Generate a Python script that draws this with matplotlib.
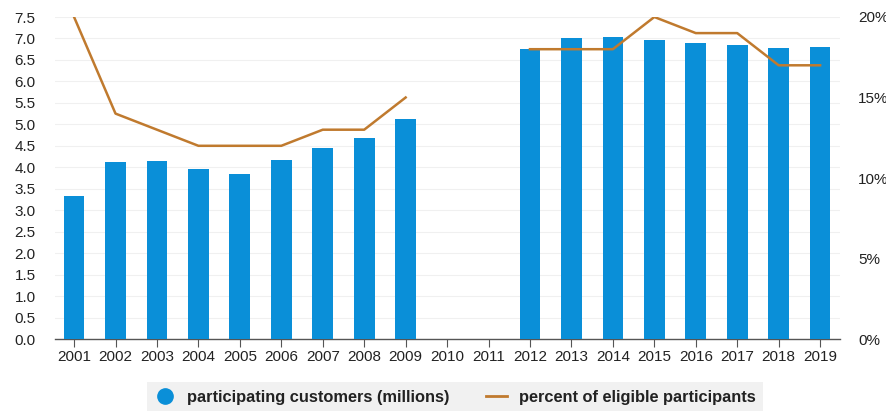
import numpy as np
import matplotlib
matplotlib.use("Agg")
from matplotlib import pyplot as plt
from matplotlib.lines import Line2D

plt.rcParams['font.family'] = ['Liberation Sans', 'DejaVu Sans']

years = [str(y) for y in range(2001, 2020)]
customers = [3.33, 4.12, 4.15, 3.96, 3.84, 4.18, 4.45, 4.68, 5.12,
             np.nan, np.nan,
             6.75, 7.00, 7.03, 6.96, 6.90, 6.84, 6.78, 6.80]
percent = [20, 14, 13, 12, 12, 12, 13, 13, 15,
           np.nan, np.nan,
           18, 18, 18, 20, 19, 19, 17, 17]
left_ticks = np.arange(0, 7.51, 0.5)
right_ticks = [0, 5, 10, 15, 20]

blue = '#0a8fd8'
brown = '#c07a2e'

W, H = 887, 411
fig = plt.figure(figsize=(W / 100, H / 100), dpi=100)
ax = fig.add_axes([55 / W, 72 / H, 785 / W, 322 / H])

x = np.arange(len(years))
ax.bar(x, customers, width=0.5, color=blue, zorder=3)
ax.set_xlim(-0.46, len(years) - 1 + 0.48)
ax.set_ylim(0, 7.5)
ax.set_yticks(left_ticks)
ax.set_yticklabels([f"{v:.1f}" for v in left_ticks])
ax.set_xticks(x)
ax.set_xticklabels(years)
ax.grid(axis='y', color='#f0f0f0', linewidth=0.8, zorder=0)

for s in ['top', 'right', 'left']:
    ax.spines[s].set_visible(False)
ax.spines['bottom'].set_color('#555555')
ax.spines['bottom'].set_linewidth(1.0)
ax.tick_params(axis='x', length=6, width=0.8, color='#555555', labelsize=11,
               labelcolor='#222222', pad=2)
ax.tick_params(axis='y', length=0, labelsize=11, labelcolor='#222222', pad=14)

ax2 = ax.twinx()
ax2.plot(x, percent, color=brown, linewidth=1.8, zorder=4)
ax2.set_ylim(0, 20)
ax2.set_yticks(right_ticks)
ax2.set_yticklabels([f"{v}%" for v in right_ticks])
ax2.tick_params(axis='y', length=0, labelsize=11, labelcolor='#222222', pad=13)
for s in ax2.spines.values():
    s.set_visible(False)

handles = [
    Line2D([], [], marker='o', linestyle='none', markersize=11,
           markerfacecolor=blue, markeredgecolor=blue),
    Line2D([], [], color=brown, linewidth=2),
]
labels = ['participating customers (millions)', 'percent of eligible participants']
leg = fig.legend(handles, labels, loc='center', bbox_to_anchor=(455 / W, 1 - 397 / H),
                 ncol=2, frameon=True, fancybox=False, handlelength=1.3,
                 columnspacing=2.2, handletextpad=0.7, borderpad=0.45,
                 prop={'weight': 'bold', 'size': 11.8})
leg.get_frame().set_facecolor('#eeeeee')
leg.get_frame().set_edgecolor('none')
for t in leg.get_texts():
    t.set_color('#222222')

fig.savefig('out.png', dpi=100)
